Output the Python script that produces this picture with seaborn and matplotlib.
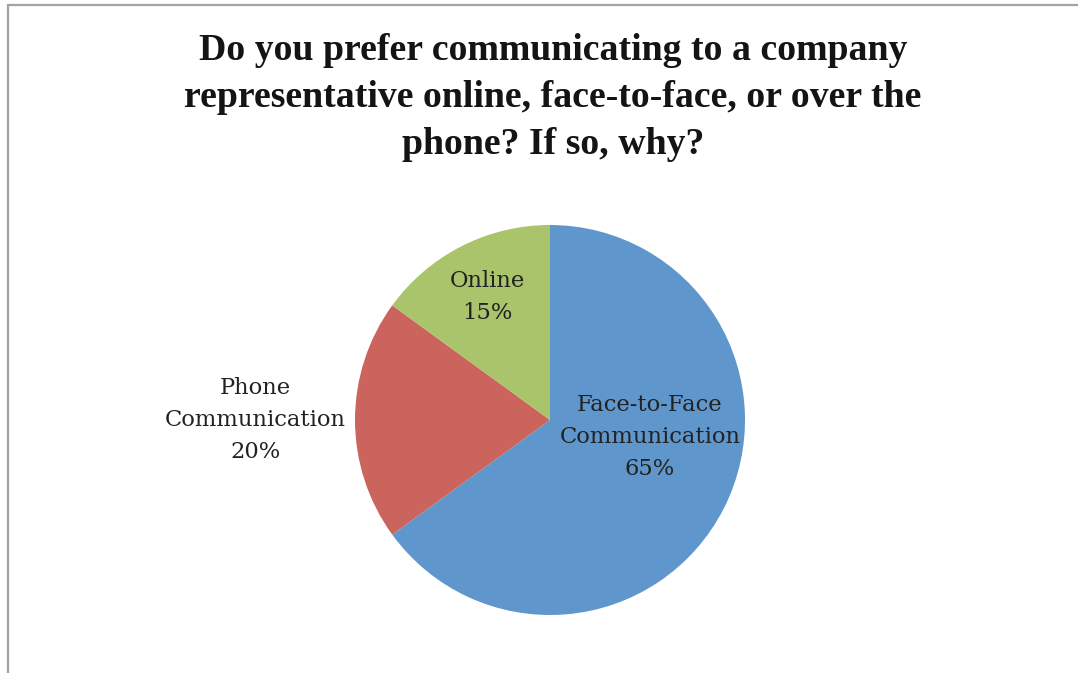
import matplotlib
matplotlib.use("Agg")
import matplotlib.pyplot as plt
from matplotlib.lines import Line2D
import numpy as np
import seaborn as sns

# Survey answers
categories = ["Face-to-Face\nCommunication", "Phone\nCommunication", "Online"]
shares = [65, 20, 15]
colors = ["#5F96CB", "#CB645C", "#A9C46A"]
title = ("Do you prefer communicating to a company\n"
         "representative online, face-to-face, or over the\n"
         "phone? If so, why?")

sns.set_theme(style="white")
plt.rcParams["font.family"] = ["DejaVu Serif"]

W, H = 1078, 673
fig = plt.figure(figsize=(W / 100, H / 100), dpi=100)
fig.patch.set_facecolor("white")

# Pie placed as a square axes (centre ~ (550, 420) px, radius ~195 px)
cx, cy, r = 550, 420, 195
ax = fig.add_axes([(cx - r) / W, (H - cy - r) / H, 2 * r / W, 2 * r / H])
wedges, _ = ax.pie(shares, colors=colors, startangle=90, counterclock=False,
                   radius=1.0, wedgeprops=dict(linewidth=0))
ax.set_xlim(-1, 1)
ax.set_ylim(-1, 1)
ax.set_aspect("equal")
ax.axis("off")

# Data labels: (angle in degrees, distance from centre as fraction of radius)
label_pos = [(-9.6, 0.52), (180.0, 1.51), (117.0, 0.71)]
for name, val, (ang, dist) in zip(categories, shares, label_pos):
    a = np.deg2rad(ang)
    ax.text(dist * np.cos(a), dist * np.sin(a), f"{name}\n{val}%",
            ha="center", va="center", fontsize=16.3, color="#222222",
            linespacing=1.6, clip_on=False)

fig.text(553 / W, 1 - 97.5 / H, title, ha="center", va="center",
         fontsize=27.2, fontweight="bold", family="Liberation Serif",
         color="#141414", linespacing=1.44)

# Frame lines along the top and left edges
fig.add_artist(Line2D([8 / W, 1], [1 - 5 / H, 1 - 5 / H], transform=fig.transFigure,
                      color="#a2a2a7", lw=1.6))
fig.add_artist(Line2D([8 / W, 8 / W], [0, 1 - 5 / H], transform=fig.transFigure,
                      color="#a2a2a7", lw=1.6))

fig.savefig("out.png", dpi=100, facecolor="white")
